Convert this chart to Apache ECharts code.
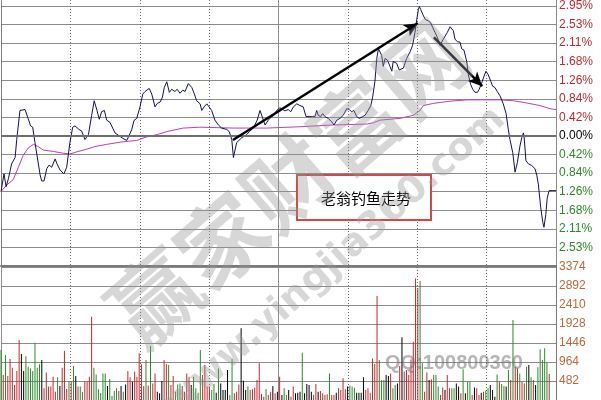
<!DOCTYPE html>
<html><head><meta charset="utf-8">
<script src="https://cdn.jsdelivr.net/npm/echarts@6/dist/echarts.min.js"></script>
<style>html,body{margin:0;padding:0;background:#fff}#c{width:601px;height:400px}</style>
</head><body><div id="c"></div>
<script>
// price line: [minute, % change]
const pricePts = [[0,-1.26],[1.3,-0.86],[2.2,-1.15],[3.2,-0.97],[4.6,-0.63],[6.1,-0.49],[6.8,-0.08],[8.2,0.58],[10.4,0.60],[11.7,0.40],[12.8,0.23],[13.7,0.20],[14.7,-0.15],[16.9,-0.88],[17.6,-1.02],[18.6,-1.02],[19.8,-0.74],[20.8,-0.66],[21.9,-0.71],[23.4,-0.52],[24.2,-0.63],[25.5,-0.77],[27.2,-0.86],[28.4,-0.71],[29.8,-0.15],[31.0,0.20],[32.0,0.23],[33.7,0.15],[34.9,0.11],[36.3,-0.08],[37.8,0.03],[39.2,0.47],[40.3,0.80],[41.5,0.58],[42.5,0.38],[43.5,0.55],[44.7,0.58],[45.7,0.36],[47.1,0.31],[48.3,0.18],[49.3,0.07],[51.5,-0.01],[53.2,-0.07],[54.4,-0.10],[55.0,-0.08],[56.5,0.14],[57.5,0.35],[58.7,0.40],[60.1,0.66],[61.3,0.95],[62.3,1.01],[63.1,0.97],[64.1,1.08],[65.2,0.95],[66.6,0.66],[67.6,0.74],[68.8,0.77],[69.8,0.88],[70.6,1.10],[71.7,1.23],[72.8,0.99],[73.8,1.06],[75.2,1.01],[76.2,1.06],[77.4,0.97],[78.6,1.04],[79.6,1.01],[81.0,1.19],[82.5,1.10],[83.5,0.97],[84.6,0.80],[86.1,0.73],[86.8,0.58],[87.8,0.66],[89.0,0.73],[89.6,0.74],[91.1,0.58],[92.5,0.36],[94.0,0.25],[95.4,0.18],[97.6,0.15],[98.7,0.10],[99.8,-0.08],[100.5,-0.49],[101.9,-0.15],[104.1,-0.04],[106.2,0.03],[107.4,0.10],[109.1,0.18],[110.8,0.36],[112.0,0.58],[112.7,0.55],[114.2,0.25],[115.6,0.36],[117.1,0.44],[118.1,0.47],[119.2,0.58],[120.6,0.64],[121.4,0.60],[122.8,0.57],[124.2,0.60],[125.3,0.55],[126.4,0.66],[127.9,0.73],[129.3,0.69],[130.7,0.66],[131.9,0.44],[133.6,0.44],[135.8,0.44],[136.5,0.58],[137.2,0.47],[138.2,0.44],[139.1,0.51],[140.1,0.44],[141.5,0.40],[143.0,0.32],[144.0,0.25],[145.2,0.36],[146.6,0.40],[148.0,0.47],[149.5,0.62],[150.6,0.60],[151.7,0.55],[152.6,0.58],[153.8,0.44],[154.9,0.40],[156.4,0.44],[157.4,0.47],[158.8,0.58],[159.9,0.69],[160.7,0.88],[161.7,1.24],[162.5,1.76],[163.2,1.98],[163.9,2.02],[164.6,1.83],[165.3,1.58],[166.1,1.76],[167.1,1.72],[168.2,1.58],[169.0,1.47],[169.6,1.69],[171.1,1.65],[172.2,1.50],[172.5,1.47],[174.0,1.54],[174.7,1.65],[175.4,1.76],[176.9,1.91],[178.0,2.06],[179.0,2.35],[179.8,2.65],[180.5,2.87],[180.9,2.94],[181.5,2.87],[182.4,2.76],[183.4,2.65],[184.8,2.61],[185.8,2.57],[186.7,2.46],[187.7,2.35],[188.7,2.24],[189.8,2.06],[190.6,2.09],[191.3,2.20],[192.0,2.24],[193.0,2.35],[194.2,2.48],[194.9,2.48],[195.6,2.39],[196.3,2.20],[197.3,2.14],[198.5,2.13],[199.2,1.98],[200.2,1.95],[201.4,1.69],[202.1,1.39],[203.1,1.17],[204.0,1.06],[205.0,0.99],[206.0,0.99],[206.8,1.06],[207.9,1.21],[208.9,1.36],[209.7,1.47],[210.7,1.39],[211.8,1.24],[212.6,1.13],[213.6,1.10],[214.6,1.01],[215.8,0.91],[217.2,0.73],[218.4,0.51],[219.4,0.14],[220.1,-0.08],[221.3,-0.38],[222.3,-0.82],[222.7,-0.86],[223.3,-0.60],[224.4,-0.23],[225.2,-0.04],[225.9,0.07],[226.2,-0.01],[227.0,-0.56],[228.0,-0.63],[229.5,-0.67],[230.9,-0.74],[231.7,-0.89],[232.4,-1.11],[233.4,-1.63],[234.3,-1.96],[234.8,-2.07],[235.6,-1.78],[236.2,-1.41],[237.0,-1.24],[238.3,-1.24],[240,-1.24]];

// average price line: [minute, % change]
const avgPts = [[0,-1.26],[2.5,-1.11],[5.3,-0.99],[7.5,-0.71],[9.6,-0.44],[11.8,-0.27],[14.0,-0.19],[16.1,-0.24],[18.3,-0.32],[22.6,-0.35],[26.9,-0.39],[29.8,-0.41],[32.7,-0.36],[37.1,-0.30],[40.6,-0.24],[45.7,-0.19],[51.5,-0.14],[55.0,-0.12],[58.7,-0.10],[63.0,-0.02],[67.3,0.03],[71.7,0.10],[78.8,0.18],[86.1,0.20],[100.3,0.18],[114.9,0.18],[129.3,0.21],[143.7,0.25],[158.1,0.27],[161.0,0.30],[163.9,0.36],[172.5,0.40],[178.3,0.47],[181.2,0.58],[182.6,0.69],[187.0,0.74],[194.2,0.79],[201.4,0.82],[208.6,0.82],[215.8,0.82],[221.5,0.80],[227.3,0.75],[233.1,0.69],[237.4,0.62],[240,0.60]];

// volume per bar, and bar colour code (r = up, g = down, k = flat)
const volumes = [1270,635,1140,610,1040,820,380,735,1520,1170,735,1110,845,800,735,1455,820,905,1015,295,700,340,340,590,210,575,355,820,1250,280,465,465,860,610,340,340,200,465,465,590,2115,820,650,270,175,675,675,355,535,100,230,295,230,355,210,395,735,575,465,720,590,1185,905,355,1015,370,1370,420,675,210,170,480,1015,915,890,380,610,210,395,420,355,210,675,590,380,590,295,185,
1270,635,890,340,340,255,405,185,800,420,255,255,760,125,1040,170,210,395,1820,490,255,340,255,270,310,510,930,150,85,280,125,210,355,170,210,590,125,295,125,255,85,340,170,185,210,1200,170,405,380,210,125,405,210,230,170,125,145,675,125,125,185,295,255,550,270,340,370,340,310,185,185,185,575,255,295,185,1055,915,2640,1015,510,510,635,610,675,295,380,420,
860,1590,720,760,635,1030,1480,3085,2835,3020,930,210,700,510,525,635,635,340,125,320,255,635,295,295,295,420,340,170,780,170,465,465,125,320,295,125,185,210,235,295,380,255,85,650,465,405,355,340,760,510,2030,845,800,675,465,420,845,890,575,510,380,830,1285,1015,1310,945,660,0,0,0];
const volColors = 'grgrrrrrrkkgggggggkrrrrrrgkrrrgrgkrggrrrrggggggkggggrkgkrrkrrrrrgrgrrkkkrrgrrgggrrrrkggg' +
  'grrrrggkgkkkkggrrrkkkgrrrrrrrgrrkrkrkggkrrkkkgkkkkrrkrrrrgrrkrrrrkgggkkkkrrrrrrgggkkrggk' +
  'rkrrrrrrrggrrkrgggrrkrrggkkrgkggrkrrkrggkkkgrggkgrgrrgrrgkgrkgggggrrkkk';

const priceTicks = ['2.95%','2.53%','2.11%','1.68%','1.26%','0.84%','0.42%','0.00%','0.42%','0.84%','1.26%','1.68%','2.11%','2.53%','2.95%']; // bottom -> top
const volTicks = [0,482,964,1446,1928,2410,2892,3374];
const priceMax = 2.95;
const minutesTotal = 240;
// annotation arrows: [[minute, %], [minute, %]]
const arrows = [[[100.3,-0.09],[180.3,2.56]], [[187.2,2.24],[208.1,1.13]]];

const COL = {red:'#c3282d', green:'#2a8a2a', black:'#000', price:'#10105a', avg:'#c23bc2', grid:'#8c8c8c', vol:'#c0673a'};
const pInt = priceMax / 7;

const chart = echarts.init(document.getElementById('c'), null, {renderer:'canvas'});
const G = {left:1, right:45};
chart.setOption({
  animation:false,
  backgroundColor:'#fff',
  grid:[
    {left:G.left, right:G.right, top:0, height:266},
    {left:G.left, right:G.right, top:267, height:133},
    {left:G.left, right:G.right, top:0, height:400}
  ],
  xAxis:[
    {gridIndex:0, type:'value', min:0, max:minutesTotal, axisLine:{show:true, onZero:false, lineStyle:{color:'#7a7a7a', width:2}}, axisTick:{show:false}, axisLabel:{show:false}, splitLine:{show:false}},
    {gridIndex:1, type:'category', data:volumes.map((_, i) => i), boundaryGap:false, show:false},
    {gridIndex:2, type:'value', min:0, max:minutesTotal, interval:30, axisLine:{show:false}, axisTick:{show:false}, axisLabel:{show:false}, splitLine:{show:true, lineStyle:{color:'#6a6a6a', width:1, type:[1,2]}}},
    {gridIndex:2, type:'value', min:0, max:minutesTotal, interval:120, axisLine:{show:false}, axisTick:{show:false}, axisLabel:{show:false}, splitLine:{show:true, lineStyle:{color:COL.grid, width:1, type:'solid'}}}
  ],
  yAxis:[
    {gridIndex:0, type:'value', position:'right', min:-priceMax, max:priceMax, interval:pInt,
      axisLine:{show:true, lineStyle:{color:'#7a7a7a', width:1}}, axisTick:{show:false},
      splitLine:{show:true, lineStyle:{color:COL.grid, width:1}},
      axisLabel:{show:true, showMinLabel:false, verticalAlignMaxLabel:'middle', margin:3, fontSize:12, fontFamily:'Liberation Sans',
        formatter:(v) => priceTicks[Math.round((v + priceMax) / pInt)],
        color:(v) => (v > 1e-6 ? COL.red : (v < -1e-6 ? COL.green : COL.black))}},
    {gridIndex:1, type:'value', position:'right', min:0, max:volTicks[volTicks.length-1], interval:volTicks[1],
      axisLine:{show:true, lineStyle:{color:'#7a7a7a', width:1}}, axisTick:{show:false},
      splitLine:{show:true, lineStyle:{color:COL.grid, width:1}},
      axisLabel:{show:true, showMinLabel:false, verticalAlignMaxLabel:'middle', margin:3, fontSize:12, fontFamily:'Liberation Sans', color:COL.vol,
        formatter:(v) => String(volTicks[Math.round(v / volTicks[1])])}},
    {gridIndex:2, type:'value', min:0, max:1, show:false}
  ],
  series:[
    {type:'line', xAxisIndex:0, yAxisIndex:0, data:avgPts, showSymbol:false, lineStyle:{color:COL.avg, width:1}, z:3,
      markLine:{silent:true, symbol:['none','none'], label:{show:false}, lineStyle:{color:'#6e6e6e', width:2, type:'solid'}, data:[{yAxis:0}]}},
    {type:'line', xAxisIndex:0, yAxisIndex:0, data:pricePts, showSymbol:false, lineStyle:{color:COL.price, width:1}, z:4,
      markLine:{silent:true, symbol:['none','arrow'], symbolSize:[10,14], label:{show:false},
        lineStyle:{color:'#000', width:2.5, type:'solid'},
        data:arrows.map(a => [{coord:a[0]}, {coord:a[1]}])}},
    {type:'bar', xAxisIndex:1, yAxisIndex:1, barWidth:1, z:2,
      data:volumes.map((v, i) => ({value:v, itemStyle:{color: volColors[i] === 'r' ? COL.red : (volColors[i] === 'g' ? COL.green : COL.black)}}))}
  ],
  graphic:[
    {type:'rect', z:50, shape:{x:297, y:175, width:134, height:45}, style:{fill:'#fff', stroke:'#d84545', lineWidth:2}},
    {type:'text', z:51, x:321, y:198, style:{text:'老翁钓鱼走势', font:'15px "Noto Sans CJK SC"', fill:'#000', align:'left', verticalAlign:'middle'}},
    {type:'text', z:60, x:288, y:183, rotation:0.71, style:{text:'赢家财富网', font:'bold 88px "Noto Sans CJK SC"', fill:'rgba(150,150,150,0.38)', align:'center', verticalAlign:'middle'}},
    {type:'text', z:60, x:335, y:262, rotation:0.73, style:{text:'www.yingjia360.com', font:'bold 38px "DejaVu Sans"', fill:'rgba(150,150,150,0.38)', align:'center', verticalAlign:'middle'}},
    {type:'text', z:60, x:454, y:363, style:{text:'QQ:100800360', font:'bold 20px "Liberation Sans"', fill:'rgba(110,110,110,0.5)', align:'center', verticalAlign:'middle'}}
  ]
});
</script></body></html>
